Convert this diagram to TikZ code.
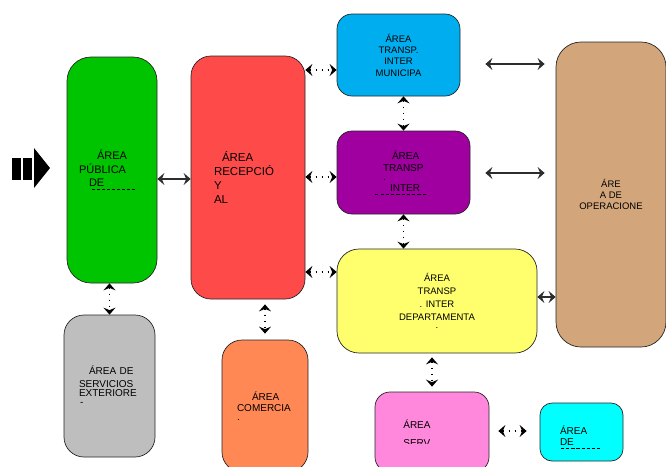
\documentclass[tikz,border=0pt]{standalone}
\usepackage{fontspec}
\setmainfont{Liberation Sans}
\usepackage{tikz}
\usetikzlibrary{arrows.meta}

\definecolor{cPub}{RGB}{0,196,0}
\definecolor{cRec}{RGB}{255,74,74}
\definecolor{cMun}{RGB}{0,174,239}
\definecolor{cInt}{RGB}{160,0,160}
\definecolor{cDep}{RGB}{255,255,110}
\definecolor{cOpe}{RGB}{210,166,122}
\definecolor{cExt}{RGB}{190,190,190}
\definecolor{cCom}{RGB}{255,136,85}
\definecolor{cSer}{RGB}{255,136,221}
\definecolor{cAux}{RGB}{0,255,255}
\definecolor{cLink}{RGB}{45,45,45}

% dashed remains of a cut text line: [offset]{length}
\newcommand{\cutline}[2][0pt]{\leavevmode\rlap{\hspace*{#1}\raisebox{-3.5pt}{\xleaders\hbox to 5pt{\rule{3.2pt}{0.7pt}\hss}\hskip#2}}}

\tikzset{
  area/.style={draw=black!85, line width=0.7pt, inner sep=0pt, align=left,
    font=\fontsize{10}{11.5}\selectfont},
  dots/.style={draw=black, line width=1.8pt, dash pattern=on 1.8pt off 4.2pt,
    {Stealth[length=7pt, width=12pt, inset=2.5pt]}-{Stealth[length=7pt, width=12pt, inset=2.5pt]}},
  link/.style={draw=cLink, line width=2.2pt,
    {Stealth[length=7pt, width=12pt, inset=2.5pt]}-{Stealth[length=7pt, width=12pt, inset=2.5pt]}}
}

\begin{document}
\begin{tikzpicture}[x=1pt, y=-1pt]

  \useasboundingbox (0,0) rectangle (666,466);

  %% entrance
  \fill (12,158) rectangle (21,180);
  \fill (23,158) rectangle (32,180);
  \fill (34,148) -- (50,168) -- (34,188) -- cycle;

  %% areas
  \node[area, fill=cPub, rounded corners=24pt, minimum width=90pt, minimum height=226pt,
    text width=66pt, font=\fontsize{11}{13.5}\selectfont] (pub) at (112,170)
    {\hspace*{18pt}ÁREA\\PÚBLICA\\\hspace*{10pt}\cutline[3pt]{45pt}DE};

  \node[area, fill=cRec, rounded corners=20pt, minimum width=114pt, minimum height=243pt,
    text width=68pt, font=\fontsize{11.5}{14}\selectfont] (rec) at (248,177.5)
    {\hspace*{8pt}ÁREA\\RECEPCIÓ\\Y\\AL};

  \node[area, fill=cMun, rounded corners=15pt, minimum width=123pt, minimum height=82pt,
    align=center, font=\fontsize{9.5}{11.3}\selectfont] (tmun) at (398.5,55)
    {ÁREA\\TRANSP.\\INTER\\MUNICIPA};

  \node[area, fill=cInt, rounded corners=15pt, minimum width=133pt, minimum height=83pt,
    text width=41pt, font=\fontsize{10}{12}\selectfont] (tint) at (403.5,172.5)
    {\hspace*{9pt}ÁREA\\TRANSP\\[-3pt].\\[-1pt]\hspace*{7pt}\cutline[-15pt]{53pt}INTER};

  \node[area, fill=cDep, rounded corners=22pt, minimum width=200pt, minimum height=104pt,
    align=center, font=\fontsize{9.5}{13}\selectfont] (tdep) at (437,301)
    {ÁREA\\TRANSP\\. INTER\\DEPARTAMENTA\\[-5pt].};

  \node[area, fill=cOpe, rounded corners=25pt, minimum width=110pt, minimum height=305pt,
    align=center, font=\fontsize{9.5}{11}\selectfont] (oper) at (611,194.5)
    {ÁRE\\A DE\\OPERACIONE};

  \node[area, fill=cExt, rounded corners=20pt, minimum width=91pt, minimum height=142pt,
    text width=61pt, font=\fontsize{10}{13}\selectfont] (sext) at (109.5,386)
    {\hspace*{10pt}ÁREA DE\\SERVICIOS\\[-4pt]EXTERIORE\\[-4pt]\hspace*{1pt}-};

  \node[area, fill=cCom, rounded corners=20pt, minimum width=86pt, minimum height=132pt,
    text width=56pt, font=\fontsize{10}{11}\selectfont] (com) at (265,406)
    {\hspace*{15pt}ÁREA\\COMERCIA\\[-2pt].};

  \node[area, fill=cSer, rounded corners=15pt, minimum width=114pt, minimum height=80pt]
    (serv) at (432,432) {};
  \begin{scope}
    \clip (serv.north west) rectangle (serv.east |- 0,443);
    \node[area, draw=none, anchor=north west] (servtxt) at (403,419)
      {ÁREA\\[6.5pt]SERV};
  \end{scope}

  \node[area, fill=cAux, rounded corners=12pt, minimum width=83pt, minimum height=58pt,
    text width=43pt, font=\fontsize{10}{10.5}\selectfont] (aux) at (581.5,432)
    {\rule{0pt}{19pt}ÁREA\\\cutline[1pt]{41pt}DE};

  %% connectors
  \draw[link, line width=1.8pt] (pub.east |- 0,179) -- (rec.west |- 0,179); %% pub - rec
  \draw[dots] (rec.east |- 0,70) -- (tmun.west |- 0,70);    %% rec - tmun
  \draw[dots] (rec.east |- 0,177) -- (tint.west |- 0,177);  %% rec - tint
  \draw[dots] (rec.east |- 0,272) -- (tdep.west |- 0,272);  %% rec - tdep

  \draw[dots] (tmun.south -| tint.north) -- (tint.north);   %% tmun - tint
  \draw[dots] (tint.south) -- (tint.south |- tdep.north);   %% tint - tdep

  \draw[dots] (sext.north |- pub.south) -- (sext.north);    %% pub - sext
  \draw[dots, shorten <=5pt, shorten >=6pt] (com.north |- rec.south) -- (com.north); %% rec - com
  \draw[dots, shorten <=4pt, shorten >=5pt] (serv.north |- tdep.south) -- (serv.north); %% tdep - serv
  \draw[dots, shorten <=9pt, shorten >=13pt] (serv.east |- 0,431) -- (aux.west |- 0,431); %% serv - aux

  \draw[link, shorten <=25pt, shorten >=11pt] (tmun.east |- 0,64) -- (oper.west |- 0,64);  %% tmun - oper
  \draw[link, shorten <=15pt, shorten >=11pt] (tint.east |- 0,173) -- (oper.west |- 0,173); %% tint - oper
  \draw[link] (tdep.east |- 0,297) -- (oper.west |- 0,297); %% tdep - oper

\end{tikzpicture}
\end{document}
